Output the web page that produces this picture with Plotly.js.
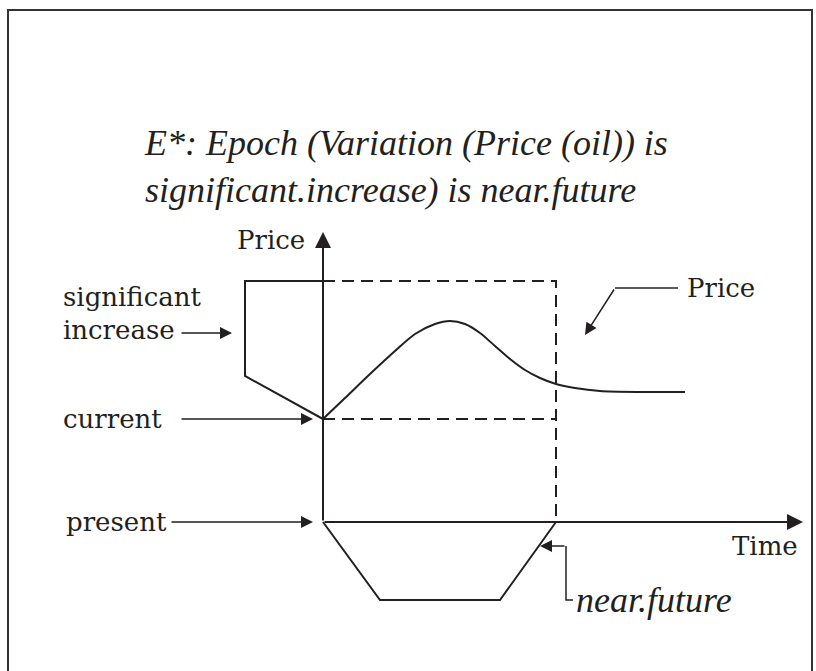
<!DOCTYPE html>
<html>
<head>
<meta charset="utf-8">
<script src="https://cdn.plot.ly/plotly-3.0.1.min.js"></script>
<style>html,body{margin:0;padding:0;background:#fff;}#chart{width:816px;height:671px;}</style>
</head>
<body>
<div id="chart"></div>
<script>
// Diagram values: time (t) measured from the present, price (p) measured from the time axis
const titleLines = ["E*: Epoch (Variation (Price (oil)) is", "significant.increase) is near.future"];
const priceCurveT = [0, 22, 47, 72, 92, 112, 127, 142, 157, 172, 187, 202, 217, 233, 252, 277, 317, 362];
const priceCurveP = [103, 124, 148, 171, 188, 198, 201, 198, 189, 176, 163, 152, 144, 138, 134, 131, 130, 130];
const increaseBoxT = [0, -78, -78, 0];
const increaseBoxP = [241, 241, 146, 103];
const epochBoxT = [0, 233, 233];
const epochBoxP = [241, 241, 0];
const currentLevelT = [0, 233];
const currentLevelP = [103, 103];
const nearFutureT = [0, 57, 177, 233];
const nearFutureP = [0, -78, -78, 0];
const priceLeaderT = [292, 355];
const priceLeaderP = [234, 234];
const futureLeaderT = [243, 243, 250];
const futureLeaderP = [-24, -78, -78];
const axisEnd = {t: 480, p: 290};
const labelNames = ["Price", "significant", "increase", "current", "present", "Time", "Price", "near.future"];

const ink = '#231f20';
const serif = 'Liberation Serif, Times New Roman, serif';
const labelFont = 'DejaVu Serif, serif';

function line(x, y, opts) {
  return Object.assign({x: x, y: y, mode: 'lines', hoverinfo: 'skip', showlegend: false,
    line: Object.assign({color: ink, width: 2}, opts || {})});
}

const traces = [
  line(increaseBoxT, increaseBoxP),
  line(epochBoxT, epochBoxP, {dash: '12px,7px'}),
  line(currentLevelT, currentLevelP, {dash: '12px,7px'}),
  line(nearFutureT, nearFutureP),
  line(priceCurveT, priceCurveP, {shape: 'spline', smoothing: 0.8}),
  line(priceLeaderT, priceLeaderP, {width: 1.5}),
  line(futureLeaderT, futureLeaderP, {width: 1.5})
];

function arrow(tipT, tipP, tailT, tailP, w) {
  return {x: tipT, y: tipP, ax: tailT, ay: tailP, xref: 'x', yref: 'y', axref: 'x', ayref: 'y',
    text: '', showarrow: true, arrowhead: 2, arrowsize: 1.6, arrowwidth: w || 1.5, arrowcolor: ink, standoff: 0, startstandoff: 0};
}
function label(t, p, txt, anchor, size, italic) {
  return {x: t, y: p, xref: 'x', yref: 'y', text: italic ? '<i>' + txt + '</i>' : txt, showarrow: false,
    xanchor: anchor, yanchor: 'middle', font: {family: italic ? serif : labelFont, size: size, color: ink}};
}

const annotations = [
  {x: -181, y: 356, xref: 'x', yref: 'y', text: '<i>' + titleLines.join('<br>') + '</i>', showarrow: false,
   xanchor: 'left', yanchor: 'middle', align: 'left', font: {family: serif, size: 36, color: ink}},
  arrow(0, axisEnd.p, 0, 0, 2),
  arrow(axisEnd.t, 0, 0, 0, 2),
  arrow(-91, 189, -143, 189),
  arrow(-10, 103, -143, 103),
  arrow(-10, 0, -153, 0),
  arrow(262, 187, 292, 234),
  arrow(217, -24, 243, -24),
  label(-16, 282, labelNames[0], 'right', 26),
  label(-262, 225, labelNames[1], 'left', 26),
  label(-262, 192, labelNames[2], 'left', 26),
  label(-262, 103, labelNames[3], 'left', 26),
  label(-259, 0, labelNames[4], 'left', 26),
  label(477, -24, labelNames[5], 'right', 26),
  label(362, 234, labelNames[6], 'left', 26),
  label(251, -78, labelNames[7], 'left', 36, true)
];

const layout = {
  width: 816, height: 671,
  margin: {l: 0, r: 0, t: 0, b: 0},
  paper_bgcolor: '#ffffff', plot_bgcolor: '#ffffff',
  xaxis: {range: [-323, 493], visible: false, fixedrange: true},
  yaxis: {range: [-149, 522], visible: false, fixedrange: true},
  showlegend: false,
  annotations: annotations,
  shapes: [
    {type: 'rect', xref: 'paper', yref: 'paper', x0: 8/816, x1: 812/816, y0: -0.05, y1: 1 - 10/671,
     line: {color: '#333', width: 2}}
  ]
};

Plotly.newPlot('chart', traces, layout, {staticPlot: true});
</script>
</body>
</html>
